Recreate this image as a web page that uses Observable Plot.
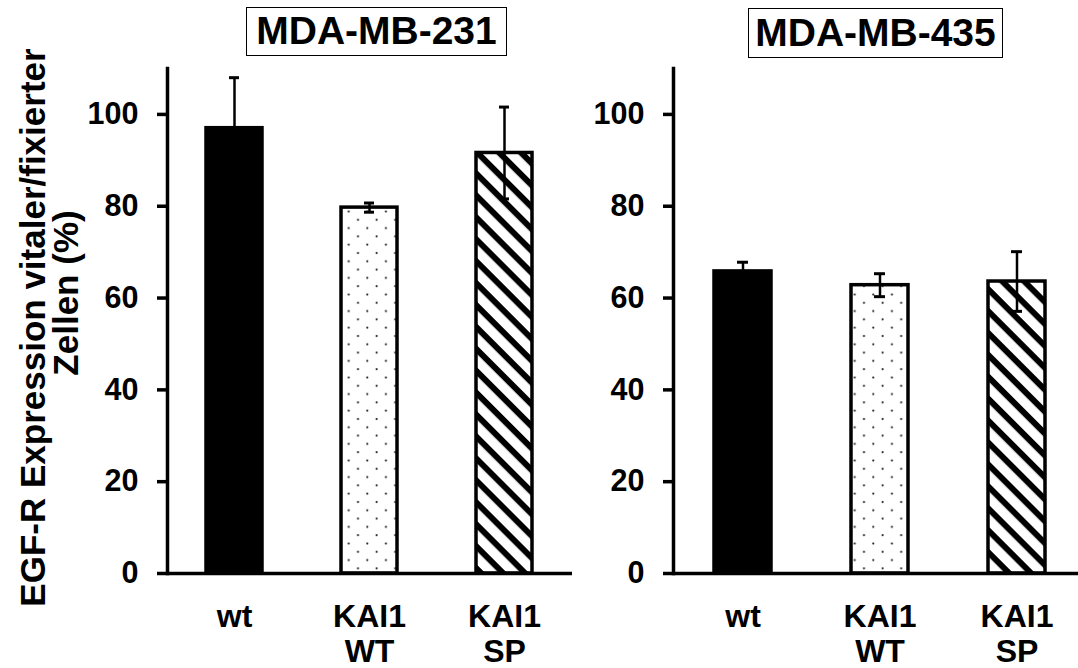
<!DOCTYPE html>
<html><head><meta charset="utf-8">
<script src="https://cdn.jsdelivr.net/npm/d3@7"></script>
<script src="https://cdn.jsdelivr.net/npm/@observablehq/plot@0.6"></script>
<style>
html,body{margin:0;padding:0;background:#fff;overflow:hidden}
#wrap{position:relative;width:1078px;height:668px;overflow:hidden;font-family:"Liberation Sans",Arial,sans-serif;font-weight:bold;background:#fff}
.panel{position:absolute;top:0}
.title{position:absolute;border:1.5px solid #000;box-sizing:border-box;text-align:center;font-size:39px;color:#000;white-space:nowrap;background:#fff}
</style></head><body>
<svg width="0" height="0" style="position:absolute">
  <defs>
    <pattern id="dots" patternUnits="userSpaceOnUse" width="18.6" height="16.6">
      <rect width="18.6" height="16.6" fill="white"/>
      <circle cx="4.6" cy="4" r="1.1" fill="#222"/>
      <circle cx="13.9" cy="12.3" r="1.1" fill="#222"/>
    </pattern>
    <pattern id="hatch" patternUnits="userSpaceOnUse" width="15.5" height="15.5" patternTransform="rotate(45)">
      <rect width="15.5" height="15.5" fill="white"/>
      <rect y="0" width="15.5" height="6" fill="black"/>
    </pattern>
  </defs>
</svg>
<div id="wrap"></div>
<script>
const categories = ["wt", "KAI1\nWT", "KAI1\nSP"];
const titles = ["MDA-MB-231", "MDA-MB-435"];
const means231 = [97, 79.7, 91.6];
const errors231 = [11, 1, 10];
const means435 = [65.8, 62.8, 63.6];
const errors435 = [2, 2.5, 6.5];
const yTicks = [0, 20, 40, 60, 80, 100];
const yLabelLines = ["EGF-R Expression vitaler/fixierter", "Zellen (%)"];
const barFills = ["black", "url(#dots)", "url(#hatch)"];

const wrap = document.getElementById("wrap");

function panel(means, errs, width, marginRight, withLabel) {
  const data = categories.map((c, i) => ({cat: c, mean: means[i], err: errs[i]}));
  const marks = [
    Plot.barY(data, {x: "cat", y: "mean", fill: "cat", stroke: "black", strokeWidth: 3.5}),
    Plot.ruleX(data, {x: "cat", y1: d => d.mean - d.err, y2: d => d.mean + d.err, strokeWidth: 2.5}),
    Plot.tickY(data, {x: "cat", y: d => d.mean + d.err, insetLeft: 23, insetRight: 23, strokeWidth: 3}),
    Plot.tickY(data, {x: "cat", y: d => d.mean - d.err, insetLeft: 23, insetRight: 23, strokeWidth: 3}),
    Plot.frame({anchor: "left", strokeWidth: 3.5}),
    Plot.ruleY([0], {strokeWidth: 3.5}),
    Plot.axisY({ticks: yTicks, tickSize: 10, tickPadding: 19, fontSize: 30.5, strokeWidth: 3.5, label: null}),
    Plot.axisX({tickSize: 0, tickPadding: 28, fontSize: 32, lineHeight: 1.1, label: null})
  ];
  if (withLabel) {
    marks.push(Plot.text([yLabelLines[0]], {text: d => d, frameAnchor: "left", textAnchor: "middle", rotate: -90, dx: -134, dy: 6.5, fontSize: 35}));
    marks.push(Plot.text([yLabelLines[1]], {text: d => d, frameAnchor: "left", textAnchor: "middle", rotate: -90, dx: -101, dy: -28, fontSize: 35}));
  }
  return Plot.plot({
    width, height: 668,
    marginLeft: 167, marginRight, marginTop: 68, marginBottom: 95,
    x: {type: "band", domain: categories, paddingInner: 0.585, paddingOuter: 0.2925, align: 0.5, axis: null},
    y: {domain: [0, 110], axis: null},
    color: {domain: categories, range: barFills},
    style: {fontFamily: "'Liberation Sans', Arial, sans-serif", fontWeight: "bold", color: "black", background: "transparent", overflow: "visible"},
    marks
  });
}

const left = panel(means231, errors231, 580, 8, true);
left.classList.add("panel");
left.style.left = "0px";
wrap.appendChild(left);

const right = panel(means435, errors435, 579, 0, false);
right.classList.add("panel");
right.style.left = "506px";
wrap.appendChild(right);

const boxes = [{l: 246, t: 7, w: 261, h: 49}, {l: 748, t: 8, w: 255, h: 50}];
titles.forEach((t, i) => {
  const d = document.createElement("div");
  d.className = "title";
  d.textContent = t;
  Object.assign(d.style, {left: boxes[i].l + "px", top: boxes[i].t + "px", width: boxes[i].w + "px", height: boxes[i].h + "px", lineHeight: (boxes[i].h - 3) + "px"});
  wrap.appendChild(d);
});
</script>
</body></html>
